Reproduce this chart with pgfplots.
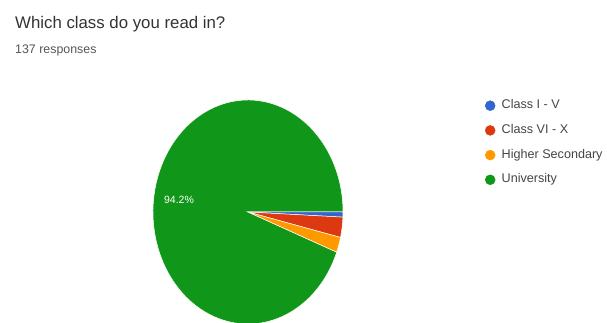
\documentclass[border=0pt]{standalone}
\usepackage{pgfplots}
\usepackage{pgfplotstable}
\pgfplotsset{compat=1.18}
\usepackage{fontspec}
\setmainfont{Liberation Sans}
\definecolor{cBlue}{HTML}{3366CC}
\definecolor{cRed}{HTML}{DC3912}
\definecolor{cOrange}{HTML}{FF9900}
\definecolor{cGreen}{HTML}{109618}
\definecolor{titletext}{HTML}{333333}
\definecolor{subtext}{HTML}{555555}
\definecolor{legtext}{HTML}{444444}
\pgfplotstableread[col sep=comma]{
name,value
Class I - V,1
Class VI - X,4
Higher Secondary,3
University,129
}\piedata
\newcommand\slice[2]{%
  \filldraw[fill=#2, draw=white, line width=0.5pt]
    (axis cs:248,111) -- ++(\csname sa#1\endcsname:95pt and 112pt)
    arc[start angle=\csname sa#1\endcsname, end angle=\csname ea#1\endcsname, x radius=95pt, y radius=112pt] -- cycle;}
\begin{document}
\begin{tikzpicture}
\pgfplotstablegetrowsof{\piedata}\pgfmathtruncatemacro\nrows{\pgfplotsretval-1}
\xdef\total{0}
\foreach \i in {0,...,\nrows}{\pgfplotstablegetelem{\i}{value}\of\piedata
  \pgfmathsetmacro\t{\total+\pgfplotsretval}\xdef\total{\t}}
\xdef\acc{0}
\foreach \i in {0,...,\nrows}{\pgfplotstablegetelem{\i}{value}\of\piedata
  \pgfmathsetmacro\e{\acc-(\pgfplotsretval/\total)*360}%
  \expandafter\xdef\csname sa\i\endcsname{\acc}%
  \expandafter\xdef\csname ea\i\endcsname{\e}%
  \xdef\acc{\e}}
\begin{axis}[width=607pt,height=323pt,scale only axis,hide axis,
  xmin=0,xmax=607,ymin=0,ymax=323,clip=true,
  legend cell align=left,
  legend style={at={(axis cs:485,223.5)}, anchor=north west, draw=none, fill=none,
    font=\fontsize{12.6}{14}\selectfont, text=legtext, row sep=12.7pt, column sep=6.5pt,
    inner sep=0pt, nodes={inner sep=0pt, text height=9pt, text depth=3pt}}]
\addlegendimage{only marks, mark=*, mark size=5pt, color=cBlue}
\addlegendentry{Class I - V}
\addlegendimage{only marks, mark=*, mark size=5pt, color=cRed}
\addlegendentry{Class VI - X}
\addlegendimage{only marks, mark=*, mark size=5pt, color=cOrange}
\addlegendentry{Higher Secondary}
\addlegendimage{only marks, mark=*, mark size=5pt, color=cGreen}
\addlegendentry{University}
\slice{3}{cGreen}
\slice{0}{cBlue}
\slice{1}{cRed}
\slice{2}{cOrange}
\node[text=white, font=\fontsize{10.5}{12}\selectfont] at (axis cs:179,123) {94.2\%};
\node[anchor=base west, inner sep=0pt, text=titletext, font=\fontsize{16.8}{18}\selectfont] at (axis cs:15,294) {Which class do you read in?};
\node[anchor=base west, inner sep=0pt, text=subtext, font=\fontsize{12.4}{14}\selectfont] at (axis cs:15,269) {137 responses};
\end{axis}
\path (current axis.south west) rectangle (current axis.north east);
\end{tikzpicture}
\end{document}
